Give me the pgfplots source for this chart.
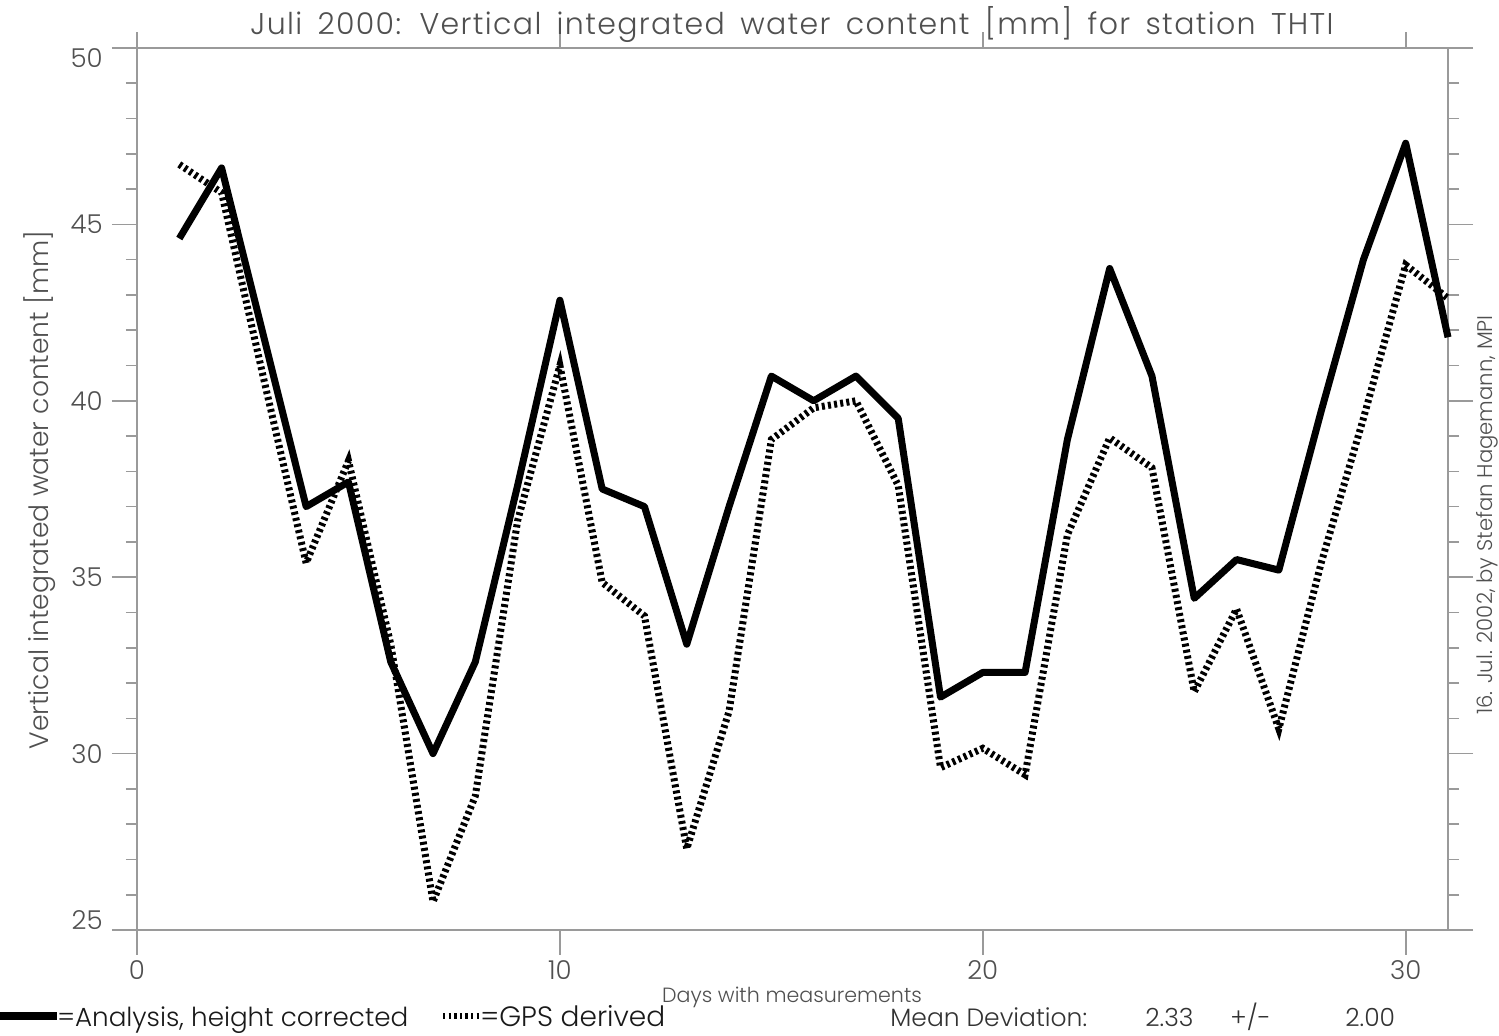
\documentclass[border=0pt]{standalone}
\usepackage{pgfplots}
\pgfplotsset{compat=1.18}
\usepackage{fontspec}
\setmainfont{Poppins Light}
\newfontfamily\titlefont{Poppins Light}[LetterSpace=4.5, WordSpace=1.6]
\definecolor{axisgray}{HTML}{9A9A9A}
\definecolor{textgray}{HTML}{505050}

\pgfplotstableread{
day val
1 44.6
2 46.6
3 41.8
4 37.0
5 37.7
6 32.6
7 30.0
8 32.6
9 37.6
10 42.85
11 37.5
12 37.0
13 33.1
14 37.0
15 40.7
16 40.0
17 40.7
18 39.5
19 31.6
20 32.3
21 32.3
22 38.9
23 43.75
24 40.7
25 34.4
26 35.5
27 35.2
28 39.7
29 44.0
30 47.3
31 41.8
}\analysis

\pgfplotstableread{
day val
1 46.7
2 45.9
3 40.6
4 35.4
5 38.3
6 33.1
7 25.8
8 28.8
9 36.6
10 41.0
11 34.85
12 33.9
13 27.3
14 31.2
15 38.9
16 39.8
17 40.0
18 37.6
19 29.6
20 30.15
21 29.4
22 36.2
23 38.95
24 38.1
25 31.75
26 34.1
27 30.7
28 35.4
29 39.5
30 43.85
31 42.9
}\gps

\begin{document}
\begin{tikzpicture}
\useasboundingbox (-68.5pt,-53pt) rectangle (681pt,465pt);
\begin{axis}[
  at={(0,0)}, anchor=south west,
  scale only axis, width=655.5pt, height=441pt,
  xmin=0, xmax=31, ymin=25, ymax=50,
  axis line style={axisgray, line width=0.8pt},
  every tick/.style={axisgray, line width=0.8pt},
  tick align=outside,
  xtick={0,10,20,30}, xtick pos=bottom,
  ytick={25,30,35,40,45,50}, ytick pos=both,
  minor y tick num=4,
  major tick length=12.5pt, minor tick length=5.5pt,
  xticklabels={}, yticklabels={},
  clip=false,
]
\addplot[black, line width=3.5pt, line join=round] table[x=day, y=val] {\analysis};
\addplot[black, line width=3.5pt, dash pattern=on 1.5pt off 1.6pt] table[x=day, y=val] {\gps};
\end{axis}

% top ticks
\foreach \xx in {0pt,211.45pt,422.9pt,634.35pt} {
  \draw[axisgray, line width=0.8pt] (\xx,441pt) -- (\xx,449pt);
}
% title
\node[anchor=base, inner sep=0, text=textgray, font=\titlefont\fontsize{15}{17}\selectfont] at (327.5pt,447.5pt)
  {Juli 2000: Vertical integrated water content [mm] for station THTI};
% y tick labels
\begin{scope}[every node/.style={anchor=east, inner sep=0, text=textgray, font=\fontsize{13}{15}\selectfont}]
\node at (-17pt,5pt) {25};
\node at (-17pt,88.2pt) {30};
\node at (-17pt,176.4pt) {35};
\node at (-17pt,264.6pt) {40};
\node at (-17pt,352.8pt) {45};
\node at (-17pt,436pt) {50};
\end{scope}
% x tick labels
\begin{scope}[every node/.style={anchor=center, inner sep=0, text=textgray, font=\fontsize{13}{15}\selectfont}]
\node at (0pt,-20pt) {0};
\node at (211.45pt,-20pt) {10};
\node at (422.9pt,-20pt) {20};
\node at (634.35pt,-20pt) {30};
\end{scope}
% axis titles
\node[anchor=base, inner sep=0, text=textgray, font=\fontsize{10.3}{12}\selectfont] at (327.5pt,-36.5pt) {Days with measurements};
\node[rotate=90, inner sep=0, text=textgray, font=\fontsize{13.3}{15}\selectfont] at (-48.5pt,220pt) {Vertical integrated water content [mm]};
\node[rotate=90, inner sep=0, text=textgray, font=\fontsize{10.6}{12}\selectfont] at (675pt,207.5pt) {16. Jul. 2002, by Stefan Hagemann, MPI};
% legend line
\draw[black, line width=4pt] (-68.5pt,-43pt) -- (-40pt,-43pt);
\node[anchor=base west, inner sep=0, text=black!90, font=\fontsize{13.1}{15}\selectfont] at (-40pt,-48.3pt) {=Analysis, height corrected};
\draw[black, line width=3.2pt, dash pattern=on 1.2pt off 1.6pt] (153pt,-43pt) -- (171.5pt,-43pt);
\node[anchor=base west, inner sep=0, text=black!90, font=\fontsize{14}{16}\selectfont] at (171.5pt,-48.3pt) {=GPS derived};
% statistics
\begin{scope}[every node/.style={anchor=base west, inner sep=0, text=black!80, font=\fontsize{12.5}{14}\selectfont}]
\node at (376.5pt,-48.3pt) {Mean Deviation:};
\node at (504pt,-48.3pt) {2.33};
\node at (546.5pt,-48.3pt) {+/-};
\node at (604pt,-48.3pt) {2.00};
\end{scope}
\end{tikzpicture}
\end{document}
